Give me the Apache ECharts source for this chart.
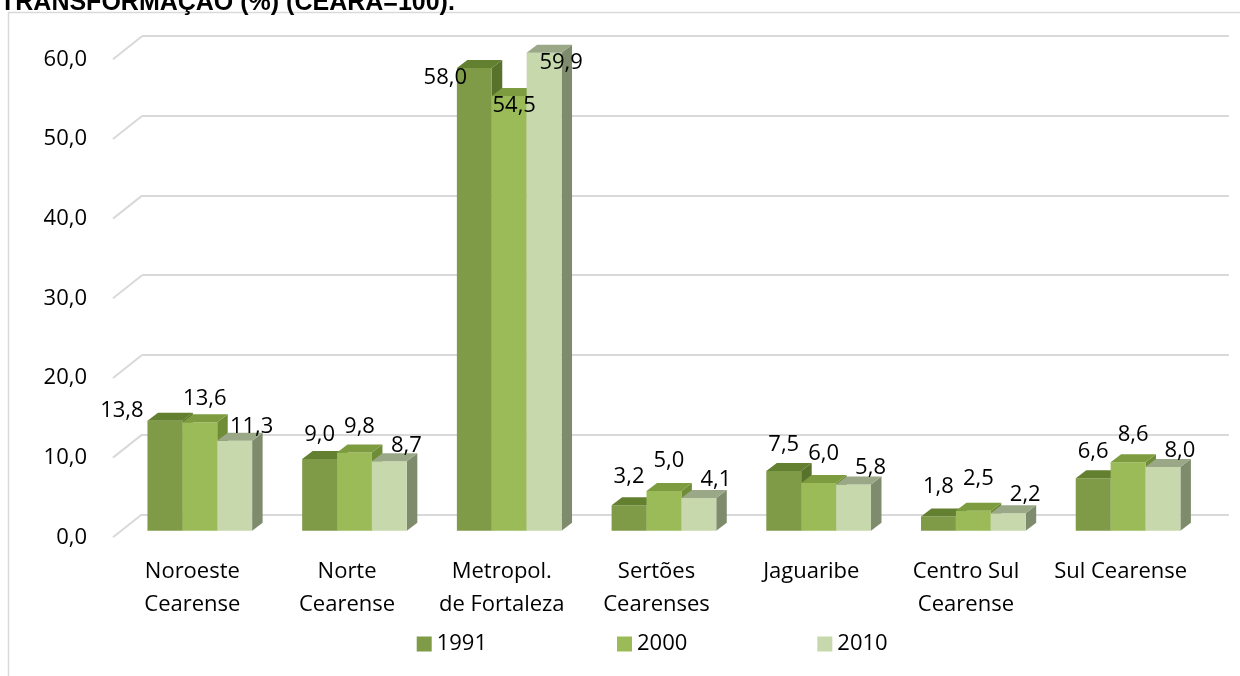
<!DOCTYPE html>
<html>
<head>
<meta charset="utf-8">
<script src="https://cdn.jsdelivr.net/npm/echarts@6/dist/echarts.min.js"></script>
<style>
  html, body { margin: 0; padding: 0; background: #fff; }
  #chart { width: 1240px; height: 676px; }
</style>
</head>
<body>
<div id="chart"></div>
<script>
// dados
var categories = ['Noroeste\nCearense', 'Norte\nCearense', 'Metropol.\nde Fortaleza', 'Sertões\nCearenses', 'Jaguaribe', 'Centro Sul\nCearense', 'Sul Cearense'];
var seriesNames = ['1991', '2000', '2010'];
var v1991 = [13.8, 9.0, 58.0, 3.2, 7.5, 1.8, 6.6];
var v2000 = [13.6, 9.8, 54.5, 5.0, 6.0, 2.5, 8.6];
var v2010 = [11.3, 8.7, 59.9, 4.1, 5.8, 2.2, 8.0];
var yTicks = [0, 10, 20, 30, 40, 50, 60];

// estilos (cores das faces: frente, topo, lado)
var faceColors = [
    ['#7f9b48', '#62802f', '#58722c'],
    ['#9bbb59', '#7d9c3f', '#6f8c37'],
    ['#c7d8ad', '#9aa888', '#7e8b6c']
];
var depthX = 10.5, depthY = -8;
// deslocamento dos rótulos (estilo Excel 3D)
var labelDx = [0, 5, 17];
var labelDy0 = [-31, -34, -20];
var labelSlope = [0.7, 0.8, 0.5];
var nudge1991X = [-43, 0, -29, 0, 0, 0, 0];
var nudge1991Y = [11, 0, 0, 0, 0, 0, 0];
var FONT = '"Open Sans", "Noto Sans", sans-serif';

function fmt(v) { return v.toFixed(1).replace('.', ','); }

function barGeom(idx, api) {
    var cat = api.value(0), val = api.value(1);
    var top = api.coord([cat, val]);
    var base = api.coord([cat, 0]);
    var band = api.size([1, 0])[0];
    var w = band * 0.2255;
    var x = top[0] - 1.5 * w + band * 0.048 + idx * w;
    return { cat: cat, val: val, x: x, w: w, t: top[1], b: base[1] };
}

function barRenderer(idx) {
    return function (params, api) {
        var g = barGeom(idx, api);
        var x = g.x, w = g.w, t = g.t, b = g.b;
        var c = faceColors[idx];
        return {
            type: 'group',
            children: [
                { type: 'polygon', shape: { points: [[x + w, t], [x + w + depthX, t + depthY], [x + w + depthX, b + depthY], [x + w, b]] }, style: { fill: c[2] } },
                { type: 'rect', shape: { x: x, y: t, width: w, height: b - t }, style: { fill: c[0] } },
                { type: 'polygon', shape: { points: [[x, t], [x + depthX, t + depthY], [x + w + depthX, t + depthY], [x + w, t]] }, style: { fill: c[1] } }
            ]
        };
    };
}

function labelRenderer(idx) {
    return function (params, api) {
        var g = barGeom(idx, api);
        var lx = g.x + g.w / 2 + labelDx[idx];
        var ly = g.t + labelDy0[idx] + labelSlope[idx] * g.val;
        if (idx === 0) { lx += nudge1991X[g.cat]; ly += nudge1991Y[g.cat]; }
        return { type: 'text', style: { text: fmt(g.val), x: lx, y: ly, fill: '#000', fontSize: 22, fontFamily: FONT, align: 'center', verticalAlign: 'middle' } };
    };
}

function toPairs(arr) {
    return arr.map(function (v, i) { return [i, v]; });
}

var chart = echarts.init(document.getElementById('chart'), null, { renderer: 'canvas' });

var valueSets = [v1991, v2000, v2010];
var series = [{
    // diagonais do piso/parede
    type: 'custom', xAxisIndex: 2, yAxisIndex: 2, silent: true, z: 1, clip: false,
    data: yTicks.map(function (t) { return [0, t]; }),
    renderItem: function (params, api) {
        var p = api.coord([0, api.value(1)]);
        return { type: 'line', shape: { x1: p[0], y1: p[1], x2: p[0] + 29, y2: p[1] - 23 }, style: { stroke: '#d9d9d9', lineWidth: 2 } };
    }
}];
valueSets.forEach(function (vals, i) {
    series.push({ name: seriesNames[i], type: 'custom', xAxisIndex: 1, yAxisIndex: 1, z: 2 + i, clip: false, itemStyle: { color: faceColors[i][0] }, data: toPairs(vals), renderItem: barRenderer(i) });
});
valueSets.forEach(function (vals, i) {
    series.push({ type: 'custom', xAxisIndex: 1, yAxisIndex: 1, z: 10, clip: false, silent: true, data: toPairs(vals), renderItem: labelRenderer(i) });
});

var option = {
    animation: false,
    backgroundColor: '#fff',
    graphic: [
        { type: 'rect', shape: { x: 8.5, y: 12.5, width: 1300, height: 700 }, style: { fill: 'none', stroke: '#d9d9d9', lineWidth: 1.5 }, z: -10 },
        { type: 'text', left: 0, top: -9, style: { text: 'TRANSFORMAÇÃO (%) (CEARÁ=100).', fill: '#000', font: 'bold 25px "Liberation Sans", Arial, sans-serif' } }
    ],
    legend: {
        data: seriesNames,
        left: 416.7,
        top: 633,
        padding: 0,
        itemWidth: 15,
        itemHeight: 15,
        itemGap: 130,
        icon: 'rect',
        textStyle: { fontSize: 22, fontFamily: FONT, color: '#000', lineHeight: 22 }
    },
    grid: [
        { left: 142, top: 36, width: 1087, height: 478.3 },   // parede do fundo
        { left: 115, top: 52, width: 1083, height: 478.8 },   // plano frontal das barras
        { left: 113, top: 59.3, width: 30, height: 478 }      // eixo de valores
    ],
    xAxis: [
        { gridIndex: 0, type: 'category', data: categories, show: false },
        {
            gridIndex: 1, type: 'category', data: categories,
            axisLine: { show: false }, axisTick: { show: false },
            axisLabel: { fontSize: 22, lineHeight: 33, margin: 24, color: '#000', fontFamily: FONT, interval: 0 }
        },
        { gridIndex: 2, type: 'value', min: 0, max: 1, show: false }
    ],
    yAxis: [
        {
            gridIndex: 0, type: 'value', min: 0, max: 60, interval: 10,
            axisLine: { show: false }, axisTick: { show: false }, axisLabel: { show: false },
            splitLine: { lineStyle: { color: '#d9d9d9', width: 2 } }
        },
        { gridIndex: 1, type: 'value', min: 0, max: 60, show: false },
        {
            gridIndex: 2, type: 'value', min: 0, max: 60, interval: 10,
            axisLine: { show: false }, axisTick: { show: false }, splitLine: { show: false },
            axisLabel: { fontSize: 22, margin: 26, color: '#000', fontFamily: FONT, formatter: function (v) { return fmt(v); } }
        }
    ],
    series: series
};

chart.setOption(option);
</script>
</body>
</html>
